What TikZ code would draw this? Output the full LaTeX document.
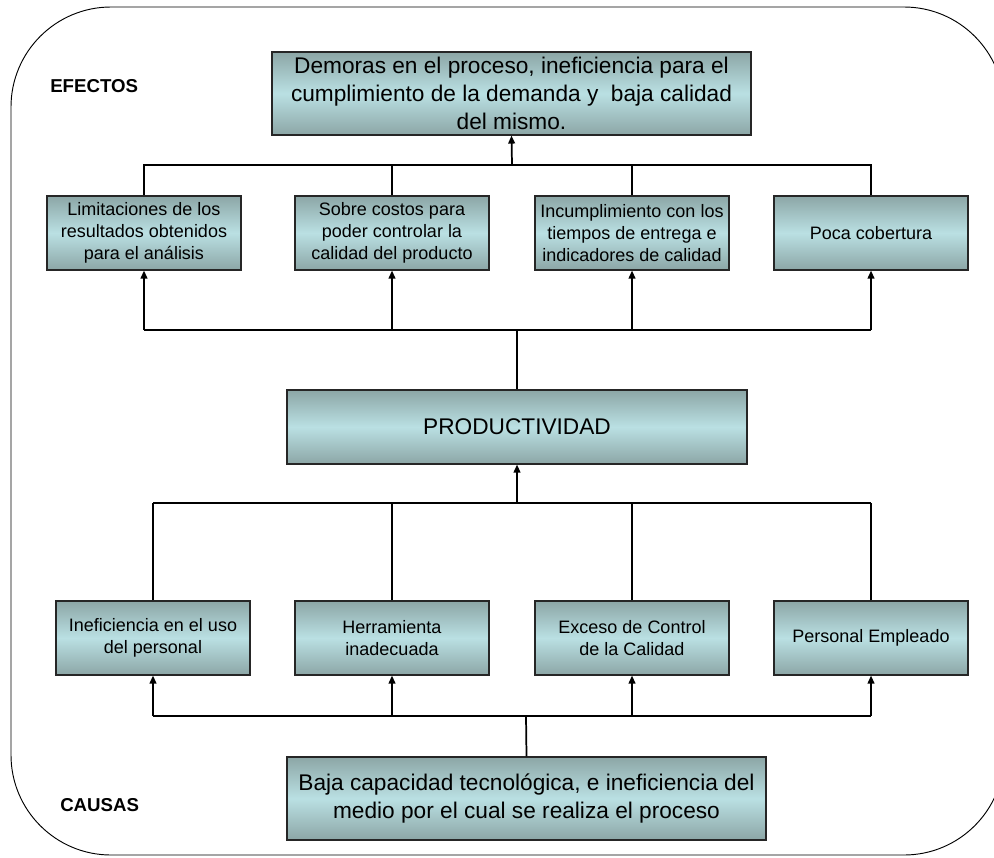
\documentclass[tikz,border=0pt]{standalone}
\usepackage{fontspec}
\setmainfont{Liberation Sans}
\usetikzlibrary{arrows.meta}
\definecolor{boxedge}{HTML}{8CA6A6}
\definecolor{boxmid}{HTML}{BAE0E3}
\tikzset{
  tealbox/.style={draw=black!85, line width=0.8pt, top color=boxedge, bottom color=boxedge, middle color=boxmid, inner sep=0pt, align=center},
  smallbox/.style={tealbox, minimum width=194*0.75pt, minimum height=74*0.75pt, font=\fontsize{13.5}{16.4}\selectfont},
  link/.style={draw=black, line width=0.8pt},
  uparrow/.style={draw=black, line width=1.3pt, -{Triangle[length=6pt,width=5pt]}},
  heading/.style={font=\bfseries\fontsize{14}{16}\selectfont, anchor=west, inner sep=0pt}
}
\begin{document}
\begin{tikzpicture}[x=0.75pt,y=-0.75pt]
\useasboundingbox (0,0) rectangle (994,857);
% outer rounded frame
\draw[line width=0.7pt, rounded corners=100*0.75pt] (11,7) rectangle (1004,855);

\node[heading] (efectos) at (50,86) {EFECTOS};
\node[heading] (causas) at (60,805) {CAUSAS};

% effect at the top
\node[tealbox, minimum width=479*0.75pt, minimum height=83*0.75pt, font=\fontsize{17}{21}\selectfont] (top) at (511.5,93.5)
  {Demoras en el proceso, ineficiencia para el\\cumplimiento de la demanda y\ \ baja calidad\\del mismo.};

% effects row
\foreach \n/\cx/\t in {e1/144/{Limitaciones de los\\resultados obtenidos\\para el análisis},
                       e2/392/{Sobre costos para\\poder controlar la\\calidad del producto},
                       e3/632/{Incumplimiento con los\\tiempos de entrega e\\indicadores de calidad},
                       e4/871/{Poca cobertura}}
  \node[smallbox] (\n) at (\cx,233) {\t};

% central problem
\node[tealbox, minimum width=460*0.75pt, minimum height=74*0.75pt, font=\fontsize{17}{20}\selectfont] (prod) at (517,427) {PRODUCTIVIDAD};

% causes row
\foreach \n/\cx/\t in {c1/153/{Ineficiencia en el uso\\del personal},
                       c2/392/{Herramienta\\inadecuada},
                       c3/632/{Exceso de Control\\de la Calidad},
                       c4/871/{Personal Empleado}}
  \node[smallbox] (\n) at (\cx,638) {\t};

% root cause
\node[tealbox, minimum width=479*0.75pt, minimum height=83*0.75pt, font=\fontsize{17}{20.3}\selectfont] (root) at (526.5,798.5)
  {Baja capacidad tecnológica, e ineficiencia del\\medio por el cual se realiza el proceso};

% junction points
\coordinate (jtop) at (512,165);
\coordinate (jmid) at (517,330);
\coordinate (jcause) at (517,503);
\coordinate (jroot) at (526,716);

% effects feed the top effect
\draw[link] (e1.north) |- (e4.north |- jtop) -- (e4.north);
\draw[link] (e2.north) -- (e2.north |- jtop);
\draw[link] (e3.north) -- (e3.north |- jtop);
\draw[uparrow] (jtop) -- (top.south);

% productivity feeds the effects
\draw[uparrow, -] (prod.north) -- (jmid);
\draw[link] (e1.south |- jmid) -- (e4.south |- jmid);
\foreach \n in {e1,e2,e3,e4}
  \draw[uparrow] (\n.south |- jmid) -- (\n.south);

% causes feed productivity
\draw[link] (c1.north |- jcause) -- (c4.north |- jcause);
\foreach \n in {c1,c2,c3,c4}
  \draw[link] (\n.north) -- (\n.north |- jcause);
\draw[uparrow] (jcause) -- (prod.south);

% root cause feeds the causes
\draw[uparrow, -] (root.north) -- (jroot);
\draw[link] (c1.south |- jroot) -- (c4.south |- jroot);
\foreach \n in {c1,c2,c3,c4}
  \draw[uparrow] (\n.south |- jroot) -- (\n.south);
\end{tikzpicture}
\end{document}
